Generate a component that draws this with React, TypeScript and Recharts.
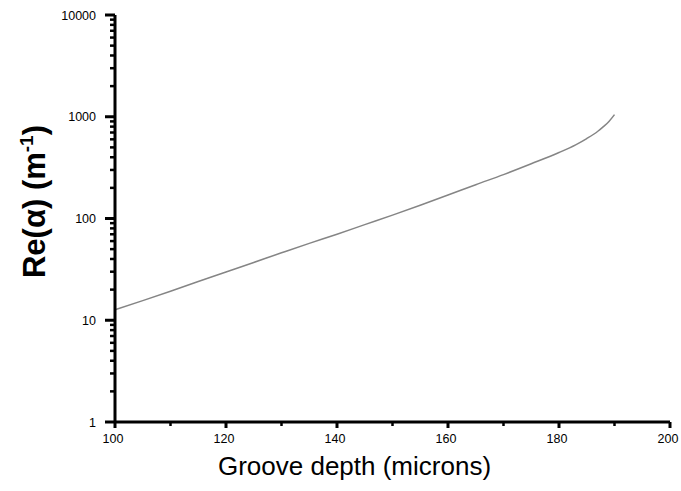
import React from 'react';
import { LineChart, Line, XAxis, YAxis, Label } from 'recharts';

const depths = [100, 105, 110, 115, 120, 125, 130, 135, 140, 145, 150, 155, 160, 165, 170, 175, 180, 183, 185, 187, 188, 189, 190];
const reAlpha = [12.7, 15.6, 19.3, 24, 29.8, 37, 46, 57, 70, 87, 108, 135, 170, 215, 270, 345, 445, 530, 610, 720, 800, 900, 1050];

const xTicks = [100, 110, 120, 130, 140, 150, 160, 170, 180, 190, 200];
const xLabels = [100, 120, 140, 160, 180, 200];
const yDecades = [1, 10, 100, 1000, 10000];
const yMinorMultipliers = [2, 3, 4, 5, 6, 7, 8, 9];

const yTicks: number[] = [];
yDecades.forEach((d, i) => {
  yTicks.push(d);
  if (i < yDecades.length - 1) yMinorMultipliers.forEach((m) => yTicks.push(d * m));
});

const data = depths.map((d, i) => ({ depth: d, re: reAlpha[i] }));

const tickFont = 'Liberation Sans, Arial, sans-serif';

const YTick = (props: any) => {
  const { x, y, payload } = props;
  const v = payload.value;
  const major = yDecades.includes(v);
  return (
    <g>
      <line x1={x - (major ? 10 : 5)} x2={x} y1={y} y2={y} stroke="#000" strokeWidth={major ? 3 : 2.5} />
      {major && (
        <text x={x - 19} y={y} dy={4.5} textAnchor="end" fontSize={12.5} fontFamily={tickFont} fill="#000">
          {v}
        </text>
      )}
    </g>
  );
};

const XTick = (props: any) => {
  const { x, y, payload } = props;
  const v = payload.value;
  const major = xLabels.includes(v);
  return (
    <g>
      <line x1={x} x2={x} y1={y} y2={y + (major ? 6 : 4)} stroke="#000" strokeWidth={major ? 3 : 2.5} />
      {major && (
        <text x={x - 2} y={y + 21} textAnchor="middle" fontSize={12.5} fontFamily={tickFont} fill="#000">
          {v}
        </text>
      )}
    </g>
  );
};

const XTitle = (props: any) => {
  const vb = props.viewBox;
  return (
    <text x={vb.x + vb.width / 2 - 38} y={vb.y + 53} textAnchor="middle" fontSize={26} fontFamily={tickFont} fill="#000">
      Groove depth (microns)
    </text>
  );
};

const YTitle = (props: any) => {
  const vb = props.viewBox;
  const cx = 45;
  const cy = vb.y + vb.height / 2 - 17;
  return (
    <text
      x={cx}
      y={cy}
      transform={`rotate(-90, ${cx}, ${cy})`}
      textAnchor="middle"
      fontSize={31}
      fontWeight="bold"
      fontFamily={tickFont}
      fill="#000"
    >
      Re(α) (m<tspan dy={-12} fontSize={19}>-1</tspan>
      <tspan dy={12}>)</tspan>
    </text>
  );
};

export default function App() {
  return (
    <div style={{ position: 'absolute', left: 0, top: 0, width: 681, height: 491, background: '#fff' }}>
      <LineChart width={681} height={491} data={data} margin={{ top: 15, right: 11, left: 0, bottom: 0 }}>
        <XAxis
          dataKey="depth"
          type="number"
          domain={[100, 200]}
          ticks={xTicks}
          interval={0}
          tickSize={0}
          tickMargin={0}
          tickLine={false}
          tick={<XTick />}
          axisLine={{ stroke: '#000', strokeWidth: 3 }}
          height={69}
        >
          <Label content={<XTitle />} />
        </XAxis>
        <YAxis
          type="number"
          scale="log"
          domain={[1, 10000]}
          allowDataOverflow
          ticks={yTicks}
          interval={0}
          tickSize={0}
          tickMargin={0}
          tickLine={false}
          tick={<YTick />}
          axisLine={{ stroke: '#000', strokeWidth: 3 }}
          width={115}
        >
          <Label content={<YTitle />} />
        </YAxis>
        <Line
          type="monotone"
          dataKey="re"
          stroke="#858585"
          strokeWidth={1.5}
          dot={false}
          isAnimationActive={false}
        />
      </LineChart>
    </div>
  );
}
